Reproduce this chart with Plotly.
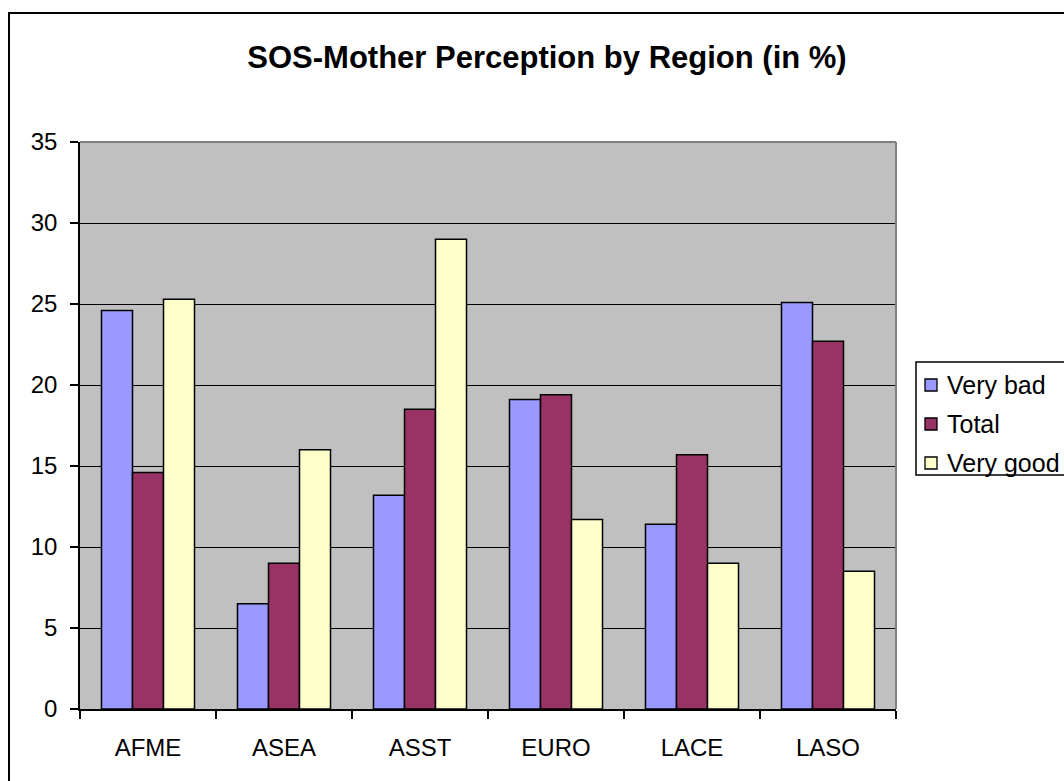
import plotly.graph_objects as go

regions = ["AFME", "ASEA", "ASST", "EURO", "LACE", "LASO"]
very_bad = [24.6, 6.5, 13.2, 19.1, 11.4, 25.1]
total = [14.6, 9.0, 18.5, 19.4, 15.7, 22.7]
very_good = [25.3, 16.0, 29.0, 11.7, 9.0, 8.5]

SERIES = [
    ("Very bad", very_bad, "#9999FF"),
    ("Total", total, "#993366"),
    ("Very good", very_good, "#FFFFCC"),
]

FONT = "Arial, Liberation Sans, sans-serif"

W, H = 1064, 781
L, T = 80, 142
PW, PH = 816, 567


def px(x):
    # pixel -> paper x
    return (x - L) / PW


def py(y):
    # pixel -> paper y
    return (T + PH - y) / PH


fig = go.Figure()
for name, values, color in SERIES:
    fig.add_trace(go.Bar(
        x=regions,
        y=values,
        name=name,
        marker=dict(color=color, line=dict(color="black", width=1.5)),
    ))

shapes = [
    # plot area border (top and right) in grey
    dict(type="line", xref="paper", yref="paper", x0=0, x1=1, y0=1, y1=1,
         line=dict(color="#808080", width=2), layer="above"),
    dict(type="line", xref="paper", yref="paper", x0=1, x1=1, y0=0, y1=1,
         line=dict(color="#808080", width=2), layer="above"),
    # chart area border
    dict(type="rect", xref="paper", yref="paper",
         x0=px(9), x1=1.3, y0=-0.3, y1=py(13),
         line=dict(color="black", width=2), layer="above"),
    # legend box (runs off the right edge like the original)
    dict(type="rect", xref="paper", yref="paper",
         x0=px(916), x1=px(1090), y0=py(475), y1=py(362),
         fillcolor="white", line=dict(color="black", width=1.5), layer="above"),
]
annotations = []
row_y = [385, 424, 463]
for (name, _, color), yy in zip(SERIES, row_y):
    shapes.append(dict(
        type="rect", xref="paper", yref="paper",
        x0=px(925), x1=px(937), y0=py(yy + 6), y1=py(yy - 6),
        fillcolor=color, line=dict(color="black", width=1.3), layer="above",
    ))
    annotations.append(dict(
        text=name, xref="paper", yref="paper", x=px(945), y=py(yy),
        xanchor="left", yanchor="middle", showarrow=False,
        font=dict(family=FONT, size=25, color="black"),
    ))

fig.update_layout(
    width=W,
    height=H,
    margin=dict(l=L, r=W - L - PW, t=T, b=H - T - PH, autoexpand=False),
    paper_bgcolor="white",
    plot_bgcolor="#C0C0C0",
    barmode="group",
    bargap=0.316,
    bargroupgap=0,
    showlegend=False,
    font=dict(family=FONT, color="black", size=24),
    title=dict(
        text="<b>SOS-Mother Perception by Region (in %)</b>",
        x=547 / W,
        xanchor="center",
        y=1 - 57 / H,
        yanchor="middle",
        font=dict(family=FONT, size=31, color="black"),
    ),
    xaxis=dict(
        showline=True,
        linecolor="black",
        linewidth=1.5,
        ticks="outside",
        tickson="boundaries",
        ticklen=8,
        tickcolor="black",
        tickwidth=1.5,
        ticklabelstandoff=16,
        showgrid=False,
        tickfont=dict(size=24),
    ),
    yaxis=dict(
        range=[0, 35],
        dtick=5,
        showline=True,
        linecolor="black",
        linewidth=1.5,
        ticks="outside",
        ticklen=8,
        tickcolor="black",
        tickwidth=1.5,
        ticklabelstandoff=8,
        showgrid=True,
        gridcolor="black",
        gridwidth=1.3,
        zeroline=False,
        tickfont=dict(size=24),
    ),
    shapes=shapes,
    annotations=annotations,
)

# drop the default page margin so the figure fills the window exactly
fig.write_html(
    "out.html",
    config={"displayModeBar": False},
    post_script="document.body.style.margin='0';document.body.style.overflow='hidden';",
)
